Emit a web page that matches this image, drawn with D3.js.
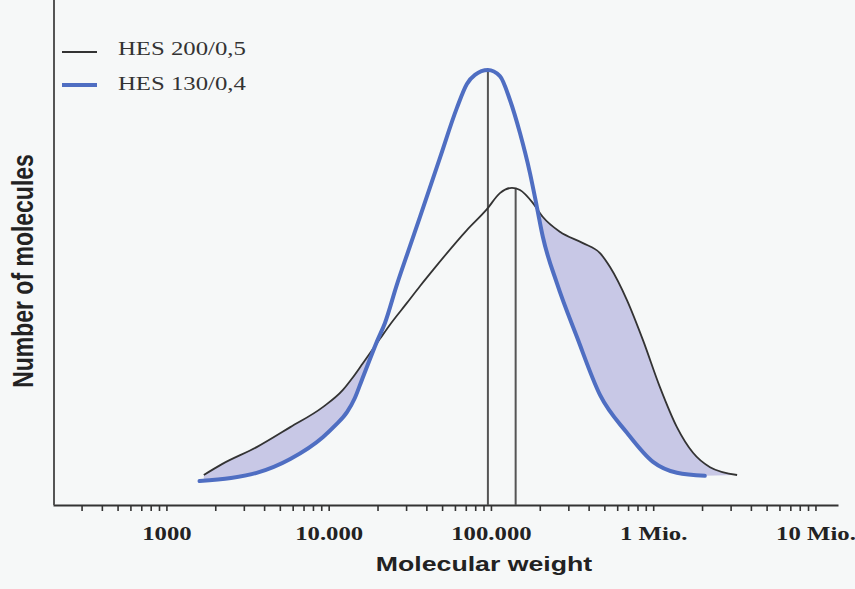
<!DOCTYPE html>
<html>
<head>
<meta charset="utf-8">
<script src="https://cdn.jsdelivr.net/npm/d3@7"></script>
<style>
  html, body { margin: 0; padding: 0; background: #f6f8f8; }
  svg { display: block; }
</style>
</head>
<body>
<svg id="chart" width="855" height="589"></svg>
<script>
// HES 130/0,4 (blue): molecular weight, relative number of molecules
const hes130Weight = [1600, 2500, 3600, 5800, 9200, 10900, 13000, 14500, 16000, 20000, 22200, 26300, 31700,
  36500, 48500, 61700, 71100, 79700, 95800, 113600, 131000, 151000, 174000, 192000,
  209000, 255000, 339000, 470000, 689000, 997000, 1400000, 2080000];
const hes130Count = [5.5, 6.2, 7.4, 10.6, 15.6, 18.2, 21.4, 24.6, 28.7, 37.9, 41.8, 50.6, 59.5,
  66.2, 79.8, 91.3, 96.8, 98.9, 100, 98.6, 93.1, 85.5, 76.3, 68.5,
  61.6, 51.0, 38.6, 25.3, 16.6, 9.9, 7.4, 6.7];

// HES 200/0,5 (black)
const hes200Weight = [1700, 2200, 3600, 5800, 9200, 12200, 14000, 16250, 20700, 23800, 30300,
  36500, 43900, 71100, 94500, 113600, 134700, 151000, 181500, 209000, 266000,
  369000, 470000, 542000, 689000, 865000, 1100000, 1400000, 1760000, 2240000, 3290000];
const hes200Count = [6.9, 9.4, 13.3, 17.9, 22.5, 26.4, 29.2, 32.6, 38.2, 41.4, 46.4,
  50.3, 54.0, 63.2, 68.0, 71.7, 72.9, 72.4, 69.4, 66.2, 62.8,
  60.2, 57.9, 54.7, 47.1, 37.9, 27.1, 17.9, 12.0, 8.7, 6.9];

// peak markers (vertical lines)
const peakWeights = [95800, 142000];
const peakCounts = [100, 72.8];

const seriesNames = ['HES 200/0,5', 'HES 130/0,4'];
const decadeValues = [1000, 10000, 100000, 1000000, 10000000];
const decadeLabels = ['1000', '10.000', '100.000', '1 Mio.', '10 Mio.'];

const BLUE = '#4f6ec2';
const DARK = '#333';
const FILL = '#c8c8e6';
const STRETCH = 1.27;

const svg = d3.select('#chart');

const x = d3.scaleLog().domain([200, 1.377e7]).range([53, 838]);
const y = d3.scaleLinear().domain([0, 100]).range([505, 70]);

const blueData = hes130Weight.map((w, i) => [w, hes130Count[i]]);
const blackData = hes200Weight.map((w, i) => [w, hes200Count[i]]);

const line = d3.line()
  .x(d => x(d[0]))
  .y(d => y(d[1]))
  .curve(d3.curveMonotoneX);

// area under the black curve, used to clip the shading
const underBlack = d3.area()
  .x(d => x(d[0]))
  .y0(y(0))
  .y1(d => y(d[1]))
  .curve(d3.curveMonotoneX);

const defs = svg.append('defs');
defs.append('clipPath')
    .attr('id', 'under-black')
  .append('path')
    .attr('d', underBlack(blackData));

// band between the two curves: black forward, blue reversed
const bandPath = line(blackData) + 'L' + line(blueData.slice().reverse()).slice(1) + 'Z';

svg.append('path')
  .attr('d', bandPath)
  .attr('fill', FILL)
  .attr('clip-path', 'url(#under-black)');

// axes
const ticks = [];
for (let e = 2; e <= 6; e++) {
  for (let k = 1; k <= 9; k++) {
    const v = k * Math.pow(10, e);
    if (v >= 300) ticks.push(v);
  }
}
ticks.push(1e7);

const xAxis = d3.axisBottom(x)
  .tickValues(ticks)
  .tickSize(6)
  .tickSizeOuter(0)
  .tickFormat(d => {
    const i = decadeValues.indexOf(d);
    return i >= 0 ? decadeLabels[i] : '';
  });

const gx = svg.append('g')
  .attr('transform', `translate(0,${y(0)})`)
  .call(xAxis);

gx.select('.domain')
  .attr('stroke', DARK)
  .attr('stroke-width', 2);

gx.selectAll('.tick line')
  .attr('stroke', DARK)
  .attr('stroke-width', 1.6);

gx.selectAll('.tick text')
  .attr('y', 0)
  .attr('dy', 0)
  .attr('transform', `translate(0,35) scale(${STRETCH},1)`)
  .attr('fill', '#222')
  .style('font-family', '"Liberation Serif", "Times New Roman", serif')
  .style('font-size', '19.5px')
  .style('font-weight', 'bold');

svg.append('line')
  .attr('x1', 54).attr('x2', 54)
  .attr('y1', 0).attr('y2', y(0))
  .attr('stroke', '#555')
  .attr('stroke-width', 2);

// peak lines
svg.selectAll('.peak')
  .data(peakWeights)
  .join('line')
    .attr('class', 'peak')
    .attr('x1', d => x(d))
    .attr('x2', d => x(d))
    .attr('y1', (d, i) => y(peakCounts[i]))
    .attr('y2', y(0))
    .attr('stroke', '#555')
    .attr('stroke-width', 2);

// curves
svg.append('path')
  .attr('d', line(blackData))
  .attr('fill', 'none')
  .attr('stroke', DARK)
  .attr('stroke-width', 1.8);

svg.append('path')
  .attr('d', line(blueData))
  .attr('fill', 'none')
  .attr('stroke', BLUE)
  .attr('stroke-width', 4)
  .attr('stroke-linecap', 'round');

// legend
const legend = svg.append('g');
const legendRows = [
  {name: seriesNames[0], color: DARK, width: 2, ly: 52, ty: 55},
  {name: seriesNames[1], color: BLUE, width: 4, ly: 85, ty: 90},
];
legendRows.forEach(r => {
  legend.append('line')
    .attr('x1', 62).attr('x2', 97)
    .attr('y1', r.ly).attr('y2', r.ly)
    .attr('stroke', r.color)
    .attr('stroke-width', r.width);
  legend.append('text')
    .attr('transform', `translate(118,${r.ty}) scale(${STRETCH},1)`)
    .attr('fill', '#333')
    .style('font-family', '"Liberation Serif", "Times New Roman", serif')
    .style('font-size', '19.5px')
    .text(r.name);
});

// axis titles
svg.append('text')
  .attr('transform', `translate(484,571) scale(${STRETCH},1)`)
  .attr('text-anchor', 'middle')
  .attr('fill', '#222')
  .style('font-family', '"Liberation Sans", Arial, sans-serif')
  .style('font-size', '21px')
  .style('font-weight', 'bold')
  .text('Molecular weight');

svg.append('text')
  .attr('transform', `translate(33,271) rotate(-90) scale(1,${STRETCH})`)
  .attr('text-anchor', 'middle')
  .attr('fill', '#222')
  .style('font-family', '"Liberation Sans", Arial, sans-serif')
  .style('font-size', '23px')
  .style('font-weight', 'bold')
  .text('Number of molecules');
</script>
</body>
</html>
